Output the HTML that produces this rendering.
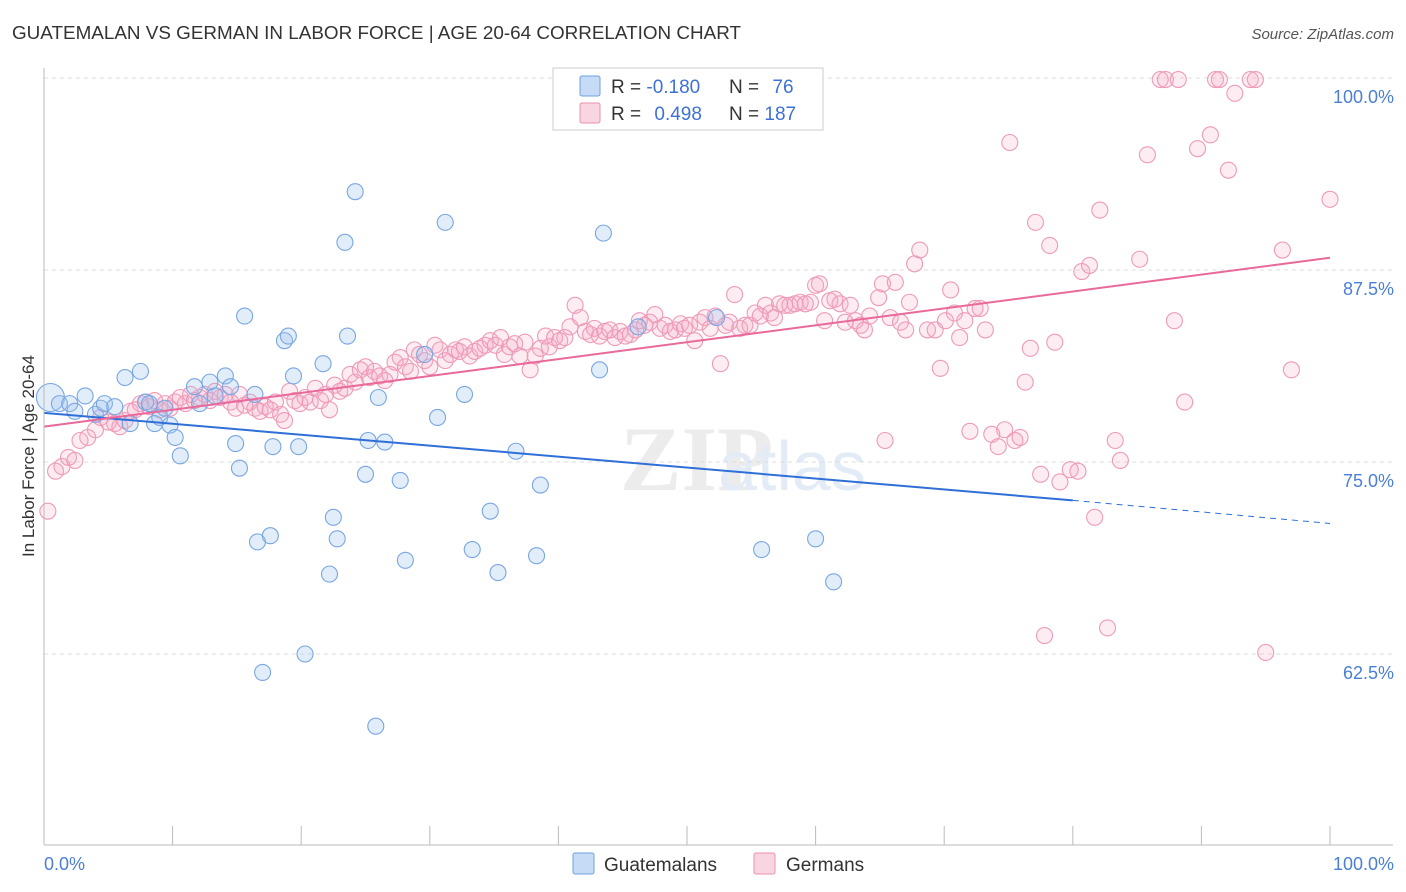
<!DOCTYPE html>
<html><head><meta charset="utf-8">
<style>
body{margin:0;background:#fff;font-family:"Liberation Sans",sans-serif;}
#wrap{position:relative;width:1406px;height:892px;overflow:hidden;}
</style></head>
<body>
<div id="wrap">
<svg id="chart" width="1406" height="892" xmlns="http://www.w3.org/2000/svg">
<text x="12" y="39" font-size="18" fill="#333" textLength="729" lengthAdjust="spacingAndGlyphs">GUATEMALAN VS GERMAN IN LABOR FORCE | AGE 20-64 CORRELATION CHART</text>
<text x="1394" y="39" font-size="15" fill="#555" text-anchor="end" font-style="italic">Source: ZipAtlas.com</text>
<text x="620" y="490" font-size="92" fill="#ececec" font-weight="bold" font-family="Liberation Serif,serif">ZIP</text>
<text x="718" y="490" font-size="70" fill="#e3ecf6">atlas</text>
<g id="grid"></g>
<g id="marks"></g>
<g id="trends"></g>
<line x1="44" y1="68" x2="44" y2="845" stroke="#bbb"/>
<line x1="44" y1="845" x2="1393" y2="845" stroke="#bbb"/>
<g id="xticks"></g>
<text x="44" y="870" font-size="18" fill="#4a7fd6">0.0%</text>
<text x="1394" y="870" font-size="18" fill="#4a7fd6" text-anchor="end">100.0%</text>
<text transform="translate(34,456) rotate(-90)" font-size="17" fill="#333" text-anchor="middle">In Labor Force | Age 20-64</text>
<g>
<rect x="553" y="68" width="270" height="62" fill="#fff" stroke="#ccc"/>
<rect x="580" y="76" width="20" height="20" fill="rgba(160,196,240,0.6)" stroke="#6fa0e0" rx="2"/>
<rect x="580" y="103" width="20" height="20" fill="rgba(244,170,195,0.5)" stroke="#ec8fb0" rx="2"/>
<text x="611" y="93" font-size="19" fill="#333">R = <tspan fill="#3d72d4">-0.180</tspan></text>
<text x="729" y="93" font-size="19" fill="#333">N = <tspan fill="#3d72d4" dx="8">76</tspan></text>
<text x="611" y="120" font-size="19" fill="#333">R = <tspan fill="#3d72d4" dx="8">0.498</tspan></text>
<text x="729" y="120" font-size="19" fill="#333">N = <tspan fill="#3d72d4">187</tspan></text>
</g>
<g>
<rect x="573" y="853" width="21" height="21" fill="rgba(160,196,240,0.6)" stroke="#6fa0e0" rx="2"/>
<text x="604" y="871" font-size="19" fill="#333">Guatemalans</text>
<rect x="754" y="853" width="21" height="21" fill="rgba(244,170,195,0.5)" stroke="#ec8fb0" rx="2"/>
<text x="786" y="871" font-size="19" fill="#333">Germans</text>
</g>
</svg>
</div>
<script>
const yTicks=[100,87.5,75,62.5];
const yTickLabels=["100.0%","87.5%","75.0%","62.5%"];
const xTickVals=[0,10,20,30,40,50,60,70,80,90,100];
const blueX=[0.5,1.2,2.0,3.2,2.4,4.0,4.4,4.7,5.5,6.3,6.7,7.5,7.9,8.2,8.6,9.0,9.4,9.8,10.2,10.6,11.7,12.1,12.9,13.3,14.1,14.5,14.9,15.2,15.6,16.4,16.6,17.0,17.6,17.8,18.7,19.0,19.4,19.8,20.3,21.7,22.2,22.5,22.8,23.4,23.6,24.2,25.0,25.2,26.0,26.5,27.7,28.1,25.8,29.6,30.6,31.2,32.7,33.3,34.7,35.3,36.7,38.3,38.6,43.2,43.5,46.2,52.3,55.8,60.0,61.4];
const blueY=[79.2,78.8,78.8,79.3,78.3,78.1,78.5,78.8,78.6,80.5,77.5,80.9,78.9,78.8,77.5,77.9,78.5,77.4,76.6,75.4,79.9,78.8,80.2,79.3,80.6,79.9,76.2,74.6,84.5,79.4,69.8,61.3,70.2,76.0,82.9,83.2,80.6,76.0,62.5,81.4,67.7,71.4,70.0,89.3,83.2,92.6,74.2,76.4,79.2,76.3,73.8,68.6,57.8,82.0,77.9,90.6,79.4,69.3,71.8,67.8,75.7,68.9,73.5,81.0,89.9,83.8,84.4,69.3,70.0,67.2];
const pinkX=[0.3,0.9,1.4,1.9,2.4,2.8,3.4,4.0,4.4,5.0,5.5,5.9,6.3,6.7,7.1,7.5,7.9,8.2,8.6,9.0,9.4,9.8,10.2,10.6,11.0,11.4,11.7,12.1,12.5,12.9,13.3,13.7,14.1,14.5,14.9,15.2,15.6,16.0,16.4,16.8,17.2,17.6,18.0,18.4,18.7,19.1,19.5,19.9,20.3,20.7,21.1,21.5,21.9,22.2,22.6,23.0,23.4,23.8,24.2,24.6,25.0,25.3,25.7,26.1,26.5,26.9,27.3,27.7,28.1,28.5,28.8,29.2,29.6,30.0,30.4,30.8,31.2,31.6,32.0,32.3,32.7,33.1,33.5,33.9,34.3,34.7,35.1,35.5,35.8,36.2,36.6,37.0,37.4,37.8,38.2,38.6,39.0,39.3,39.7,40.1,40.5,40.9,41.3,41.7,42.1,42.5,42.8,43.2,43.6,44.0,44.4,44.8,45.2,45.6,46.0,46.3,46.7,47.1,47.5,47.9,48.3,48.7,49.1,49.5,49.8,50.2,50.6,51.0,51.4,51.8,52.2,52.6,53.0,53.3,53.7,54.1,54.5,54.9,55.3,55.7,56.1,56.5,56.8,57.2,57.6,58.0,58.4,58.8,59.2,59.6,60.0,60.3,60.7,61.1,61.5,61.9,62.3,62.7,63.1,63.5,63.8,64.2,64.9,65.2,65.4,65.8,66.2,66.6,67.0,67.3,67.7,68.1,68.7,69.3,69.7,70.1,70.5,70.8,71.2,71.6,72.0,72.4,72.8,73.2,73.7,74.2,74.7,75.1,75.5,75.9,76.3,76.7,77.1,77.5,77.8,78.2,78.6,79.0,79.8,80.4,80.7,81.3,81.7,82.1,82.7,83.3,83.7,85.2,85.8,86.8,87.2,88.2,87.9,88.7,89.7,90.7,91.1,91.4,92.1,92.6,93.8,94.2,95.0,96.3,97.0,100.0];
const pinkY=[71.8,74.4,74.7,75.3,75.1,76.4,76.6,77.1,77.9,77.6,77.5,77.3,77.7,78.3,78.4,78.8,78.9,78.6,79.0,78.4,78.8,78.5,78.9,79.2,78.8,79.4,79.0,79.2,79.4,79.0,79.6,79.2,79.4,78.9,78.5,79.4,78.7,78.9,78.5,78.3,78.6,78.4,78.9,78.1,77.7,79.6,79.0,78.8,79.2,78.9,79.8,79.0,79.4,78.4,80.0,79.6,79.8,80.7,80.2,81.0,81.2,80.5,80.9,80.6,80.3,80.7,81.5,81.8,81.2,80.9,82.3,82.0,81.6,81.2,82.6,82.3,81.6,82.0,82.3,82.2,82.5,81.9,82.2,82.4,82.6,82.9,82.6,83.1,82.0,82.5,82.7,81.9,82.8,81.0,81.9,82.4,83.2,82.5,83.1,82.9,83.1,83.8,85.2,84.4,83.5,83.3,83.7,83.2,83.5,83.6,83.1,83.5,83.2,83.3,83.6,84.2,83.9,84.1,84.6,83.7,83.9,83.5,83.6,84.0,83.7,83.9,82.9,84.1,84.4,83.7,84.5,81.4,83.9,84.1,85.9,83.7,83.9,83.9,84.7,84.5,85.2,84.7,84.4,85.3,85.2,85.2,85.3,85.4,85.3,85.4,86.5,86.6,84.2,85.5,85.6,85.3,84.1,85.2,84.2,83.9,83.6,84.5,85.7,86.6,76.4,84.4,86.7,84.1,83.6,85.4,87.9,88.8,83.6,83.6,81.1,84.2,86.2,84.7,83.1,84.2,77.0,85.0,85.0,83.6,76.8,76.0,77.1,95.8,76.4,76.6,80.2,82.4,90.6,74.2,63.7,89.1,82.8,73.7,74.5,74.4,87.4,87.8,71.4,91.4,64.2,76.4,75.1,88.2,95.0,99.9,99.9,99.9,84.2,78.9,95.4,96.3,99.9,99.9,94.0,99.0,99.9,99.9,62.6,88.8,81.0,92.1];
const blueTrend=[78.2,72.5,71.0];
const blueTrendBreak=80;
const pinkTrend=[77.3,88.3];

const NS="http://www.w3.org/2000/svg";
function X(v){return 44+v*12.86;}
function Y(v){return 78+(100-v)*15.36;}
function mk(tag,attrs,parent){const e=document.createElementNS(NS,tag);for(const k in attrs)e.setAttribute(k,attrs[k]);parent.appendChild(e);return e;}
const grid=document.getElementById('grid');
yTicks.forEach((t,i)=>{
  const l=mk('line',{x1:44,x2:1393,y1:Y(t),y2:Y(t),stroke:'#ddd','stroke-dasharray':'4,4'},grid);
  
  
  const tx=mk('text',{x:1394,y:Y(t)+25,'font-size':18,fill:'#4a7fd6','text-anchor':'end'},grid);
  tx.textContent=yTickLabels[i];
  
  
});
const xt=document.getElementById('xticks');
xTickVals.forEach(v=>{
  const l=mk('line',{x1:X(v),x2:X(v),y1:826,y2:845,stroke:'#bbb'},xt);
  
  
});
const marks=document.getElementById('marks');
pinkX.forEach((x,i)=>{
  const c=mk('circle',{cx:X(x),cy:Y(pinkY[i]),r:8,fill:'rgba(244,170,195,0.22)',stroke:'#ee9ab8','stroke-width':1.1},marks);
  
  
});
blueX.forEach((x,i)=>{
  const c=mk('circle',{cx:X(x),cy:Y(blueY[i]),r:i===0?14:8,fill:'rgba(160,196,240,0.3)',stroke:'#78a6e2','stroke-width':1.1},marks);
  
  
});
const tr=document.getElementById('trends');
const b1=mk('line',{x1:X(0),y1:Y(blueTrend[0]),x2:X(blueTrendBreak),y2:Y(blueTrend[1]),stroke:'#2f6fd8','stroke-width':2},tr);


const b2=mk('line',{x1:X(blueTrendBreak),y1:Y(blueTrend[1]),x2:X(100),y2:Y(blueTrend[2]),stroke:'#2f6fd8','stroke-width':1,'stroke-dasharray':'6,5'},tr);


const p1=mk('line',{x1:X(0),y1:Y(pinkTrend[0]),x2:X(100),y2:Y(pinkTrend[1]),stroke:'#e8699a','stroke-width':2},tr);


</script>
</body></html>
